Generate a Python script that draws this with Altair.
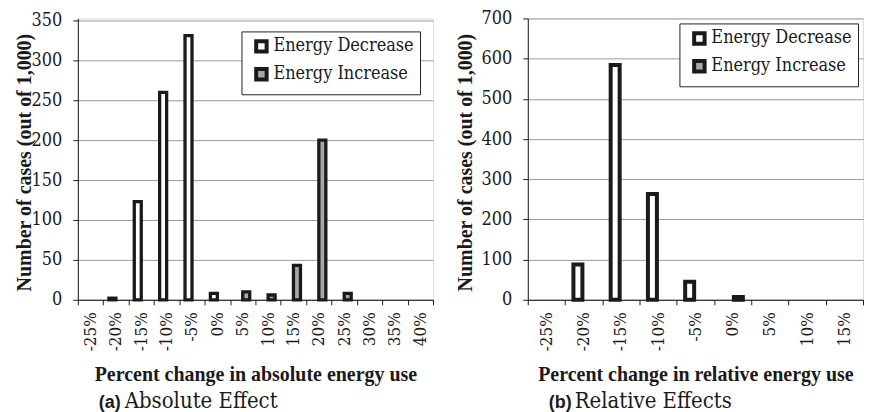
import altair as alt
import pandas as pd

# ---- data ----
series = ["Energy Decrease", "Energy Increase"]

cats_a = ["-25%", "-20%", "-15%", "-10%", "-5%", "0%", "5%", "10%", "15%",
          "20%", "25%", "30%", "35%", "40%"]
decrease_a = [0, 2, 123, 260, 331, 8, 0, 0, 0, 0, 0, 0, 0, 0]
increase_a = [0, 0, 0, 0, 0, 0, 10, 6, 43, 200, 8, 0, 0, 0]

cats_b = ["-25%", "-20%", "-15%", "-10%", "-5%", "0%", "5%", "10%", "15%"]
decrease_b = [0, 88, 584, 263, 45, 0, 0, 0, 0]
increase_b = [0, 0, 0, 0, 0, 7, 0, 0, 0]

yticks_a = [0, 50, 100, 150, 200, 250, 300, 350]
yticks_b = [0, 100, 200, 300, 400, 500, 600, 700]

BOLD_SERIF = "Liberation Serif"
SERIF = "DejaVu Serif Condensed, DejaVu Serif"
SANS = "Liberation Sans"
INK = "#1a1a1a"
GRID = "#9a9a9a"
H = 282


def frame(cats, dec, inc):
    rows = []
    for c, d, i in zip(cats, dec, inc):
        if d:
            rows.append({"cat": c, "series": series[0], "value": d})
        if i:
            rows.append({"cat": c, "series": series[1], "value": i})
    return pd.DataFrame(rows)


def panel(cats, dec, inc, width, ymax, yticks, bar_w, stroke_w, off_pad,
          ytitle_x, xtitle, cap_letter, cap_text, leg_offset):
    df = frame(cats, dec, inc)
    bars = alt.Chart(df).mark_bar(
        width=bar_w, stroke=INK, strokeWidth=stroke_w, strokeJoin="miter"
    ).encode(
        x=alt.X(
            "cat:N", sort=cats,
            scale=alt.Scale(domain=cats, paddingInner=0, paddingOuter=0),
            axis=alt.Axis(
                title=xtitle, labelAngle=270, tickBand="extent", grid=False,
                labelFont=SERIF, labelFontSize=17, labelColor=INK,
                labelPadding=7, tickSize=5, tickColor=INK, domainColor=INK,
                titleFont=BOLD_SERIF, titleFontSize=20, titleFontWeight="bold",
                titleColor=INK, titleBaseline="middle", titleY=75,
            ),
        ),
        xOffset=alt.XOffset(
            "series:N",
            scale=alt.Scale(domain=series, paddingInner=0, paddingOuter=off_pad),
        ),
        y=alt.Y(
            "value:Q",
            scale=alt.Scale(domain=[0, ymax], nice=False, zero=True),
            axis=alt.Axis(
                title="Number of cases (out of 1,000)", values=yticks,
                format="d", grid=True, gridColor=GRID, gridWidth=1,
                labelFont=SERIF, labelFontSize=18, labelColor=INK,
                labelPadding=11, tickSize=5, tickColor=INK, domainColor=INK,
                titleFont=BOLD_SERIF, titleFontSize=20, titleFontWeight="bold",
                titleColor=INK, titleBaseline="middle", titleX=ytitle_x,
                titleY=H / 2 + 3,
            ),
        ),
        fill=alt.Fill(
            "series:N",
            scale=alt.Scale(domain=series, range=["#ffffff", "#a8a8a8"]),
            legend=alt.Legend(
                title=None, orient="top-right", offset=leg_offset,
                strokeColor="#222222", fillColor="#ffffff", padding=6,
                labelFont=SERIF, labelFontSize=18, labelColor=INK,
                symbolType="square", symbolSize=110, symbolStrokeWidth=4,
                symbolStrokeColor=INK, rowPadding=0, labelOffset=3,
                symbolOffset=5,
            ),
        ),
    )
    letter = alt.Chart(pd.DataFrame({"t": [cap_letter]})).mark_text(
        align="left", baseline="alphabetic", font=SANS, fontSize=18,
        fontWeight="bold", color=INK,
    ).encode(x=alt.value(21), y=alt.value(390), text="t:N")
    caption = alt.Chart(pd.DataFrame({"t": [cap_text]})).mark_text(
        align="left", baseline="alphabetic", font=SERIF, fontSize=22,
        color=INK,
    ).encode(x=alt.value(47), y=alt.value(390), text="t:N")
    return alt.layer(bars, letter, caption).properties(width=width, height=H)


left = panel(cats_a, decrease_a, increase_a, 356, 352.5, yticks_a, 7, 3.3,
             0.816, -53.5, "Percent change in absolute energy use",
             "(a)", "Absolute Effect", 13)
right = panel(cats_b, decrease_b, increase_b, 336, 700, yticks_b, 9, 4,
              0.623, -62, "Percent change in relative energy use",
              "(b)", "Relative Effects", 5)

chart = alt.hconcat(left, right, spacing=21).resolve_scale(
    x="independent", y="independent", fill="independent",
    xOffset="independent",
).resolve_legend(fill="independent").properties(
    padding={"left": 6, "top": 0, "right": 0, "bottom": 0}
).configure_view(stroke="transparent", strokeWidth=0).configure(
    background="white"
)

chart.save("out.html", embed_options={"renderer": "svg", "actions": False})
